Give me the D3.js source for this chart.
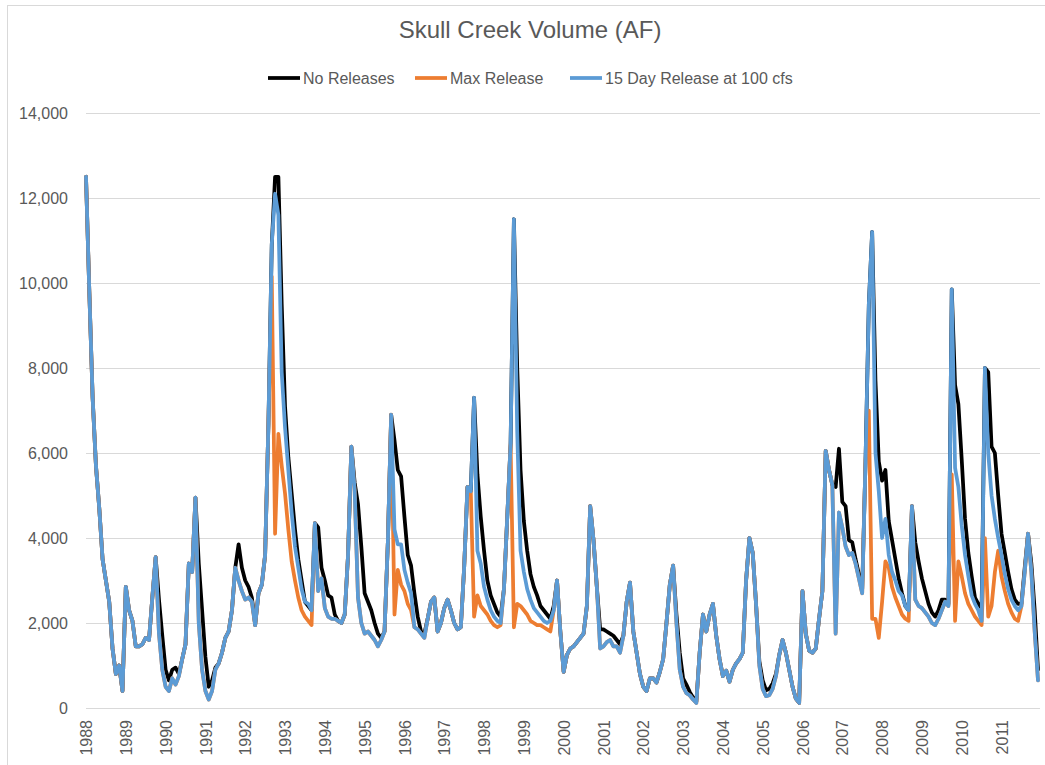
<!DOCTYPE html>
<html>
<head>
<meta charset="utf-8">
<script src="https://cdn.jsdelivr.net/npm/d3@7/dist/d3.min.js"></script>
<style>
  body { margin: 0; background: #fff; }
  svg text { font-family: "Liberation Sans Narrow", "Liberation Sans", Arial, sans-serif; fill: #595959; }
</style>
</head>
<body>
<svg id="chart" width="1045" height="765"></svg>
<script>
// Monthly storage volume (acre-feet), January 1988 through December 2011.
const yearLabels = d3.range(1988, 2012).map(String);

const noReleases = [
  12500, 9800, 7300, 5700, 4700, 3500, 3000, 2500, 1400, 800, 1000, 400,
  2850, 2300, 2050, 1450, 1450, 1500, 1650, 1600, 2600, 3550, 2550, 1700,
  900, 650, 900, 950, 800, 1150, 1500, 3400, 3200, 4950, 3400, 2300,
  1200, 500, 650, 950, 1050, 1300, 1650, 1800, 2300, 3300, 3850, 3300,
  3000, 2850, 2600, 1950, 2700, 2900, 3600, 6700, 10900, 12500, 12500, 9500,
  7100, 5900, 5050, 4200, 3500, 3000, 2500, 2400, 2300, 4350, 4250, 3300,
  3000, 2650, 2600, 2200, 2050, 2000, 2200, 3600, 6150, 5300, 4800, 3800,
  2700, 2500, 2300, 2000, 1750, 1650, 1800, 3900, 6900, 6300, 5600, 5450,
  4500, 3600, 3350, 2700, 2150, 1800, 1750, 2100, 2500, 2600, 1800, 2000,
  2350, 2550, 2300, 2000, 1850, 1900, 3300, 5200, 5100, 7300, 5500, 4500,
  3700, 3000, 2650, 2450, 2250, 2150, 2800, 4500, 6200, 11500, 8000, 5600,
  4400, 3700, 3150, 2850, 2650, 2400, 2300, 2200, 2100, 2400, 3000, 1800,
  850, 1250, 1400, 1450, 1550, 1650, 1750, 2400, 4750, 3950, 2850, 1850,
  1850, 1800, 1750, 1700, 1600, 1500, 1700, 2500, 2950, 1800, 1300, 800,
  500, 400, 700, 700, 600, 850, 1150, 2000, 2900, 3350, 2200, 1300,
  700, 550, 380, 250, 150, 1300, 2200, 1800, 2200, 2450, 1700, 1150,
  750, 880, 620, 900, 1050, 1150, 1300, 3000, 4000, 3650, 2450, 1100,
  650, 420, 450, 580, 800, 1250, 1600, 1300, 900, 500, 220, 120,
  2750, 1750, 1350, 1300, 1400, 2100, 2750, 6050, 5600, 5250, 5200, 6100,
  4850, 4750, 3950, 3900, 3500, 3150, 2800, 5800, 9500, 11200, 7700, 5800,
  5350, 5600, 4400, 3950, 3500, 3050, 2700, 2400, 2300, 4750, 3900, 3450,
  3050, 2750, 2450, 2250, 2150, 2300, 2550, 2550, 2450, 9850, 7600, 7150,
  5850, 4450, 3650, 3100, 2600, 2450, 2350, 8000, 7900, 6150, 6000, 5000,
  4100, 3650, 3200, 2800, 2550, 2450, 2450, 3300, 4100, 3400, 2300, 900
];

const maxRelease = [
  12500, 9800, 7300, 5700, 4700, 3500, 3000, 2500, 1400, 800, 1000, 400,
  2850, 2300, 2050, 1450, 1450, 1500, 1650, 1600, 2600, 3550, 1750, 900,
  500, 400, 700, 550, 750, 1150, 1500, 3400, 3200, 4950, 2000, 900,
  400, 200, 400, 900, 1050, 1300, 1650, 1800, 2300, 3300, 3000, 2750,
  2550, 2600, 2500, 1950, 2700, 2900, 3600, 6700, 10150, 4100, 6450, 5700,
  5050, 4200, 3450, 3000, 2600, 2300, 2150, 2050, 1950, 4350, 2750, 3050,
  2350, 2150, 2100, 2100, 2050, 2000, 2200, 3600, 6150, 5100, 2600, 2000,
  1750, 1800, 1700, 1600, 1450, 1600, 1800, 3900, 6900, 2200, 3250, 2900,
  2750, 2450, 2300, 1900, 1850, 1750, 1650, 2100, 2500, 2600, 1800, 2000,
  2350, 2550, 2300, 2000, 1850, 1900, 3300, 5200, 5100, 2150, 2650, 2400,
  2300, 2200, 2050, 1950, 1900, 1950, 2800, 4500, 6200, 1900, 2450, 2400,
  2300, 2200, 2050, 2000, 1950, 1950, 1900, 1850, 1800, 2300, 3000, 1800,
  850, 1250, 1400, 1450, 1550, 1650, 1750, 2400, 4750, 3950, 2850, 1400,
  1450, 1550, 1600, 1450, 1450, 1300, 1700, 2500, 2950, 1800, 1300, 800,
  500, 400, 700, 700, 600, 850, 1150, 2000, 2900, 3350, 2000, 900,
  500, 350, 300, 200, 120, 1300, 2200, 1800, 2200, 2450, 1700, 1150,
  750, 880, 620, 900, 1050, 1150, 1300, 3000, 4000, 3650, 2450, 1000,
  450, 280, 300, 450, 750, 1250, 1600, 1300, 900, 500, 220, 120,
  2750, 1750, 1350, 1300, 1400, 2100, 2750, 6050, 5600, 5250, 1750, 4600,
  4250, 3800, 3600, 3650, 3400, 3050, 2700, 5800, 7000, 2100, 2100, 1650,
  2500, 3450, 3300, 2850, 2600, 2400, 2200, 2100, 2050, 4750, 2550, 2400,
  2350, 2250, 2150, 2000, 1950, 2100, 2300, 2500, 2400, 5500, 2050, 3450,
  3100, 2700, 2450, 2300, 2150, 2050, 1950, 4000, 2150, 2400, 3200, 3700,
  3100, 2750, 2450, 2250, 2100, 2050, 2400, 3200, 4100, 3200, 1800, 650
];

const release15Day = [
  12500, 9800, 7300, 5700, 4700, 3500, 3000, 2500, 1400, 800, 1000, 400,
  2850, 2300, 2050, 1450, 1450, 1500, 1650, 1600, 2600, 3550, 1750, 900,
  500, 400, 700, 550, 750, 1150, 1500, 3400, 3200, 4950, 2000, 900,
  400, 200, 400, 900, 1050, 1300, 1650, 1800, 2300, 3300, 3000, 2750,
  2550, 2600, 2500, 1950, 2700, 2900, 3600, 6700, 10900, 12100, 11600, 7900,
  6600, 5600, 4600, 3800, 3300, 2800, 2500, 2450, 2300, 4350, 2750, 3050,
  2350, 2150, 2100, 2100, 2050, 2000, 2200, 3600, 6150, 5100, 2600, 2000,
  1750, 1800, 1700, 1600, 1450, 1600, 1800, 3900, 6900, 4200, 3850, 3850,
  3250, 2950, 2700, 1900, 1850, 1750, 1650, 2100, 2500, 2600, 1800, 2000,
  2350, 2550, 2300, 2000, 1850, 1900, 3300, 5200, 5100, 7300, 3700, 3400,
  2850, 2550, 2300, 2150, 2050, 2000, 2800, 4500, 6200, 11500, 6500, 3700,
  3200, 2800, 2550, 2350, 2250, 2150, 2050, 2000, 2050, 2300, 3000, 1800,
  850, 1250, 1400, 1450, 1550, 1650, 1750, 2400, 4750, 3950, 2850, 1400,
  1450, 1550, 1600, 1450, 1450, 1300, 1700, 2500, 2950, 1800, 1300, 800,
  500, 400, 700, 700, 600, 850, 1150, 2000, 2900, 3350, 2000, 900,
  500, 350, 300, 200, 120, 1300, 2200, 1800, 2200, 2450, 1700, 1150,
  750, 880, 620, 900, 1050, 1150, 1300, 3000, 4000, 3650, 2450, 1000,
  450, 280, 300, 450, 750, 1250, 1600, 1300, 900, 500, 220, 120,
  2750, 1750, 1350, 1300, 1400, 2100, 2750, 6050, 5600, 5250, 1750, 4600,
  4250, 3800, 3600, 3650, 3400, 3050, 2700, 5800, 9500, 11200, 6000, 5100,
  4000, 4450, 3600, 3200, 3000, 2750, 2650, 2400, 2300, 4750, 2550, 2400,
  2350, 2250, 2150, 2000, 1950, 2100, 2300, 2500, 2400, 9850, 5650, 5200,
  4300, 3600, 3100, 2650, 2450, 2300, 2050, 8000, 6000, 5000, 4450, 4000,
  3600, 3150, 2800, 2550, 2400, 2300, 2400, 3200, 4100, 3200, 1800, 650
];

const yTicks = [0, 2000, 4000, 6000, 8000, 10000, 12000, 14000];
const seriesNames = ["No Releases", "Max Release", "15 Day Release at 100 cfs"];
const seriesColors = ["#000000", "#ED7D31", "#5B9BD5"];
const chartTitle = "Skull Creek Volume (AF)";

const series = [noReleases, maxRelease, release15Day];

const svg = d3.select("#chart");
const W = 1045, H = 765;
const plot = { left: 86, right: 1038, top: 113, bottom: 708 };

// chart-area border
svg.append("rect")
  .attr("x", 7.5).attr("y", 5.5)
  .attr("width", W).attr("height", H - 3)
  .attr("fill", "#fff").attr("stroke", "#d9d9d9").attr("stroke-width", 1);

const x = d3.scaleLinear().domain([0, noReleases.length - 1]).range([plot.left, plot.right]);
const y = d3.scaleLinear().domain([0, 14000]).range([plot.bottom, plot.top]);

// horizontal gridlines + value labels
const yAxis = d3.axisLeft(y).tickValues(yTicks).tickSize(-(plot.right - plot.left) - 2)
  .tickFormat(d3.format(","));
const gy = svg.append("g").attr("transform", `translate(${plot.left},0)`).call(yAxis);
gy.select(".domain").remove();
gy.selectAll(".tick line").attr("stroke", "#d9d9d9").attr("stroke-width", 1);
gy.selectAll(".tick text")
  .attr("x", -18).attr("dy", "0.34em")
  .style("font-size", "16px").attr("fill", "#595959");

// year labels, rotated, one per January
const yearIdx = yearLabels.map((_, i) => i * 12);
const xAxis = d3.axisBottom(x).tickValues(yearIdx).tickSize(0)
  .tickFormat((d, i) => yearLabels[i]);
const gx = svg.append("g").attr("transform", `translate(0,${plot.bottom})`).call(xAxis);
gx.select(".domain").remove();
gx.selectAll(".tick text")
  .attr("transform", "rotate(-90)")
  .attr("text-anchor", "end")
  .attr("x", -12).attr("y", 0).attr("dy", "0.35em")
  .style("font-size", "16px").attr("fill", "#595959");

// series lines, drawn in legend order so the 15-day release sits on top
const line = d3.line().x((d, i) => x(i)).y(d => y(d));
series.forEach((vals, k) => {
  svg.append("path")
    .datum(vals)
    .attr("d", line)
    .attr("fill", "none")
    .attr("stroke", seriesColors[k])
    .attr("stroke-width", 3.75)
    .attr("stroke-linejoin", "round")
    .attr("stroke-linecap", "round");
});

// title
svg.append("text")
  .attr("x", 530).attr("y", 38)
  .attr("text-anchor", "middle")
  .style("font-size", "24px")
  .text(chartTitle);

// legend
const legendX = [268, 415, 570];
const legend = svg.append("g");
seriesNames.forEach((name, k) => {
  const g = legend.append("g").attr("transform", `translate(${legendX[k]},78)`);
  g.append("line").attr("x1", 0).attr("x2", 32).attr("y1", 0).attr("y2", 0)
    .attr("stroke", seriesColors[k]).attr("stroke-width", 3.75);
  g.append("text").attr("x", 35).attr("y", 0).attr("dy", "0.35em")
    .style("font-size", "16px").text(name);
});
</script>
</body>
</html>
